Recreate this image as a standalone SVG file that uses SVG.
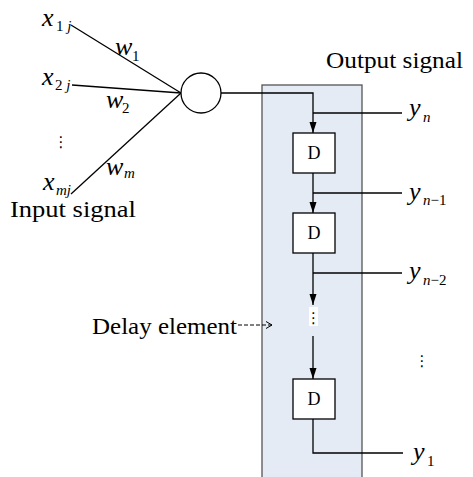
<svg xmlns="http://www.w3.org/2000/svg" width="473" height="477" viewBox="0 0 473 477">
<defs>
<marker id="arr" markerUnits="userSpaceOnUse" markerWidth="12" markerHeight="8" refX="11" refY="3.5" orient="auto">
<path d="M0,0 L11,3.5 L0,7 z" fill="#000"/>
</marker>
<marker id="open" markerUnits="userSpaceOnUse" markerWidth="10" markerHeight="10" refX="7" refY="4" orient="auto">
<path d="M1,0.5 L7,4 L1,7.5" fill="none" stroke="#000" stroke-width="1"/>
</marker>
</defs>
<style>
.t{font-family:"Liberation Serif","Times New Roman",serif;fill:#000}
.m{font-family:"Liberation Serif","Times New Roman",serif;font-style:italic;fill:#000;font-size:26px}
.s{font-family:"Liberation Serif","Times New Roman",serif;font-style:italic;fill:#000;font-size:15px}
.u{font-style:normal}
.ln{stroke:#000;stroke-width:1.3;fill:none}
.box{fill:#fff;stroke:#000;stroke-width:1.3}
.dots{font-family:"DejaVu Sans",sans-serif;font-size:15px;fill:#000}
</style>
<rect id="bg" x="0" y="0" width="473" height="477" fill="#fff"/>
<g id="delay-region">
<rect x="262" y="85" width="100" height="400" fill="#e4ebf5" stroke="#555" stroke-width="1.3"/>
</g>
<g id="connectors">
<line class="ln" x1="71" y1="25" x2="181" y2="93"/>
<line class="ln" x1="72" y1="85" x2="181" y2="93"/>
<line class="ln" x1="71" y1="194" x2="181" y2="93"/>
<polyline class="ln" points="221,93 313,93 313,133" marker-end="url(#arr)"/>
<line class="ln" x1="313" y1="113" x2="402" y2="113"/>
<line class="ln" x1="313" y1="173" x2="313" y2="213" marker-end="url(#arr)"/>
<line class="ln" x1="313" y1="193" x2="402" y2="193"/>
<line class="ln" x1="313" y1="253" x2="313" y2="305" marker-end="url(#arr)"/>
<line class="ln" x1="313" y1="273" x2="402" y2="273"/>
<line class="ln" x1="313" y1="336" x2="313" y2="379" marker-end="url(#arr)"/>
<polyline class="ln" points="313,419 313,453 403,453"/>
<line x1="238" y1="325" x2="272" y2="325" stroke="#000" stroke-width="1" stroke-dasharray="4,2" marker-end="url(#open)"/>
</g>
<g id="neuron">
<circle cx="201" cy="93" r="20" fill="#fff" stroke="#000" stroke-width="1.3"/>
</g>
<g id="d1">
<rect class="box" x="293" y="133" width="42" height="40"/>
<text class="t" x="314" y="159" font-size="18" text-anchor="middle">D</text>
</g>
<g id="d2">
<rect class="box" x="293" y="213" width="42" height="40"/>
<text class="t" x="314" y="239" font-size="18" text-anchor="middle">D</text>
</g>
<g id="d-gap">
<rect x="309" y="307" width="9" height="19" fill="#fff"/>
<text class="dots" x="313.5" y="323" text-anchor="middle">⋮</text>
</g>
<g id="d3">
<rect class="box" x="293" y="379" width="42" height="40"/>
<text class="t" x="314" y="405" font-size="18" text-anchor="middle">D</text>
</g>
<g id="labels">
<text class="t" x="326" y="68" font-size="23" textLength="137" lengthAdjust="spacingAndGlyphs">Output signal</text>
<text class="t" x="10" y="217" font-size="23" textLength="126" lengthAdjust="spacingAndGlyphs">Input signal</text>
<text class="t" x="92" y="334" font-size="23" textLength="145" lengthAdjust="spacingAndGlyphs">Delay element</text>
<text class="m" x="42" y="26">x</text><text class="s" x="56" y="31"><tspan class="u">1</tspan> j</text>
<text class="m" x="42" y="85">x</text><text class="s" x="55" y="90"><tspan class="u">2</tspan> j</text>
<text class="m" x="43" y="190">x</text><text class="s" x="56" y="195">mj</text>
<text class="m" x="115" y="55">w</text><text class="s" x="132" y="61"><tspan class="u">1</tspan></text>
<text class="m" x="106" y="108">w</text><text class="s" x="122" y="113"><tspan class="u">2</tspan></text>
<text class="m" x="106" y="175">w</text><text class="s" x="124" y="178">m</text>
<text class="m" x="409" y="116">y</text><text class="s" x="423" y="122">n</text>
<text class="m" x="409" y="200">y</text><text class="s" x="423" y="205">n<tspan class="u">−1</tspan></text>
<text class="m" x="409" y="279">y</text><text class="s" x="423" y="285">n<tspan class="u">−2</tspan></text>
<text class="m" x="413" y="460">y</text><text class="s" x="427" y="466"><tspan class="u">1</tspan></text>
<text class="dots" x="61" y="147" text-anchor="middle">⋮</text>
<text class="dots" x="422" y="366" text-anchor="middle">⋮</text>
</g>
</svg>
